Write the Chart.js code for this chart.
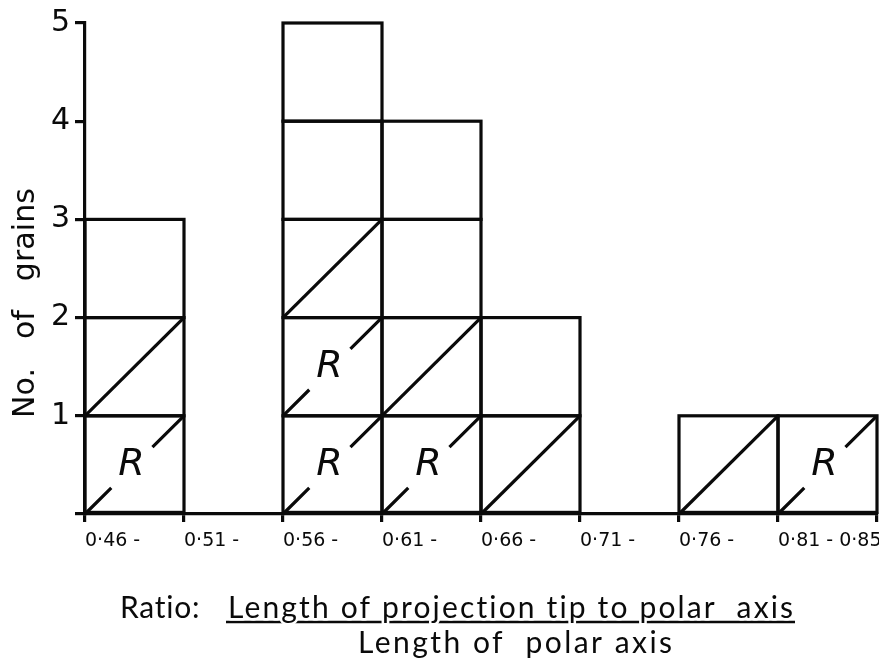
<!DOCTYPE html>
<html>
<head>
<meta charset="utf-8">
<script src="https://cdn.jsdelivr.net/npm/chart.js@4.4.1/dist/chart.umd.min.js"></script>
<style>
    html, body { margin: 0; padding: 0; background: #ffffff; }
</style>
</head>
<body>
<canvas id="grainChart" width="879" height="661"></canvas>
<script>
// Ratio classes, one column per class (labels sit on the left edge of each column)
const binLabels = ['0·46 -', '0·51 -', '0·56 -', '0·61 -', '0·66 -', '0·71 -', '0·76 -', '0·81 - 0·85', ''];
// Number of grains in each class
const grainCounts = [3, 0, 5, 4, 2, 0, 1, 1];
// Cells (from the bottom) marked R with a broken diagonal
const rCells = [1, 0, 2, 1, 0, 0, 0, 1];
// Cells above those with a solid diagonal
const solidCells = [1, 0, 1, 1, 1, 0, 1, 0];
const yTickValues = [0, 1, 2, 3, 4, 5];

const ink = '#0a0a0a';
const lineW = 3.2;

// one floating bar per grain
const cellData = [];
grainCounts.forEach((n, i) => {
    for (let k = 0; k < n; k++) {
        cellData.push({ x: i + 0.5, y: [k, k + 1] });
    }
});

// one short line per diagonal
const diagonalSets = [];
grainCounts.forEach((n, i) => {
    const marked = rCells[i] + solidCells[i];
    for (let k = 0; k < marked; k++) {
        const isR = k < rCells[i];
        diagonalSets.push({
            type: 'line',
            data: [{ x: i, y: k }, { x: i + 1, y: k + 1 }],
            borderColor: ink,
            borderWidth: lineW,
            borderDash: isR ? [37, 58, 44] : [],
            borderCapStyle: 'butt',
            pointRadius: 0,
            clip: false
        });
    }
});

// strokes every cell outline centred on the cell edges
const cellOutlines = {
    id: 'cellOutlines',
    afterDatasetsDraw(chart) {
        const ctx = chart.ctx;
        const meta = chart.getDatasetMeta(0);
        ctx.save();
        ctx.strokeStyle = ink;
        ctx.lineWidth = lineW;
        ctx.lineJoin = 'miter';
        meta.data.forEach(bar => {
            const { x, y, base, width } = bar.getProps(['x', 'y', 'base', 'width'], true);
            ctx.strokeRect(x - width / 2, Math.min(y, base), width, Math.abs(base - y));
        });
        ctx.restore();
    }
};

// R letters in the middle of the marked cells
const rLetters = {
    id: 'rLetters',
    afterDatasetsDraw(chart) {
        const ctx = chart.ctx;
        const xs = chart.scales.x;
        const ys = chart.scales.y;
        ctx.save();
        ctx.fillStyle = ink;
        ctx.font = 'italic 38px "DejaVu Sans"';
        ctx.textAlign = 'center';
        ctx.textBaseline = 'middle';
        rCells.forEach((n, i) => {
            for (let k = 0; k < n; k++) {
                ctx.fillText('R', xs.getPixelForValue(i + 0.47), ys.getPixelForValue(k + 0.5));
            }
        });
        ctx.restore();
    }
};

function fitText(ctx, text, x, y, width) {
    ctx.letterSpacing = '0px';
    const w = ctx.measureText(text).width;
    const s = (width - w) / Math.max(text.length - 1, 1);
    ctx.letterSpacing = s.toFixed(2) + 'px';
    ctx.fillText(text, x, y);
    ctx.letterSpacing = '0px';
}

// axis titles, lettered like the original drawing
const axisTitles = {
    id: 'axisTitles',
    afterDraw(chart) {
        const ctx = chart.ctx;
        ctx.save();
        ctx.fillStyle = ink;
        ctx.textBaseline = 'alphabetic';
        ctx.textAlign = 'left';

        // y title
        ctx.save();
        ctx.translate(34, 418);
        ctx.rotate(-Math.PI / 2);
        ctx.font = '30px "DejaVu Sans"';
        fitText(ctx, 'No.   of   grains', 0, 0, 230);
        ctx.restore();

        // x title, first line
        ctx.font = '30px Lato';
        fitText(ctx, 'Ratio:', 120, 618, 80);

        ctx.strokeStyle = ink;
        ctx.lineWidth = 2.5;
        ctx.beginPath();
        ctx.moveTo(226, 622);
        ctx.lineTo(795, 622);
        ctx.stroke();

        // white halo so descenders break the underline
        const numer = 'Length of projection tip to polar  axis';
        ctx.letterSpacing = '0px';
        const w0 = ctx.measureText(numer).width;
        const s = (566 - w0) / (numer.length - 1);
        ctx.letterSpacing = s.toFixed(2) + 'px';
        ctx.strokeStyle = '#ffffff';
        ctx.lineWidth = 5;
        ctx.lineJoin = 'round';
        ctx.strokeText(numer, 228, 618);
        ctx.fillText(numer, 228, 618);
        ctx.letterSpacing = '0px';

        // x title, second line
        fitText(ctx, 'Length of  polar axis', 358, 653, 314);
        ctx.restore();
    }
};

const ctx = document.getElementById('grainChart').getContext('2d');
const chart = new Chart(ctx, {
    type: 'bar',
    data: {
        datasets: [{
            type: 'bar',
            data: cellData,
            backgroundColor: 'rgba(0,0,0,0)',
            borderWidth: 0,
            barPercentage: 1,
            categoryPercentage: 1,
            grouped: false,
            clip: false
        }, ...diagonalSets]
    },
    options: {
        responsive: false,
        animation: false,
        layout: {
            padding: { top: 22, right: 0, left: 0, bottom: 0 }
        },
        plugins: {
            legend: { display: false },
            tooltip: { enabled: false }
        },
        scales: {
            x: {
                type: 'linear',
                offset: false,
                min: 0,
                max: binLabels.length - 1,
                afterFit: (scale) => {
                    scale.height = 147;
                    scale.paddingRight = 2;
                },
                ticks: {
                    stepSize: 1,
                    autoSkip: false,
                    maxRotation: 0,
                    align: 'start',
                    padding: 8,
                    color: ink,
                    font: { family: 'DejaVu Sans', size: 19 },
                    callback: (value) => binLabels[value] ?? ''
                },
                grid: {
                    offset: false,
                    drawOnChartArea: false,
                    drawTicks: true,
                    tickLength: 8,
                    lineWidth: lineW,
                    color: ink
                },
                border: { display: true, color: ink, width: lineW }
            },
            y: {
                type: 'linear',
                min: yTickValues[0],
                max: yTickValues[yTickValues.length - 1],
                afterFit: (scale) => { scale.width = 85; },
                ticks: {
                    stepSize: 1,
                    padding: 5,
                    color: ink,
                    font: { family: 'DejaVu Sans', size: 30 },
                    callback: (value) => (yTickValues.includes(value) && value !== 0 ? String(value) : '')
                },
                grid: {
                    drawOnChartArea: false,
                    drawTicks: true,
                    tickLength: 10,
                    lineWidth: lineW,
                    color: ink
                },
                border: { display: true, color: ink, width: lineW }
            }
        }
    },
    plugins: [cellOutlines, rLetters, axisTitles]
});
</script>
</body>
</html>
